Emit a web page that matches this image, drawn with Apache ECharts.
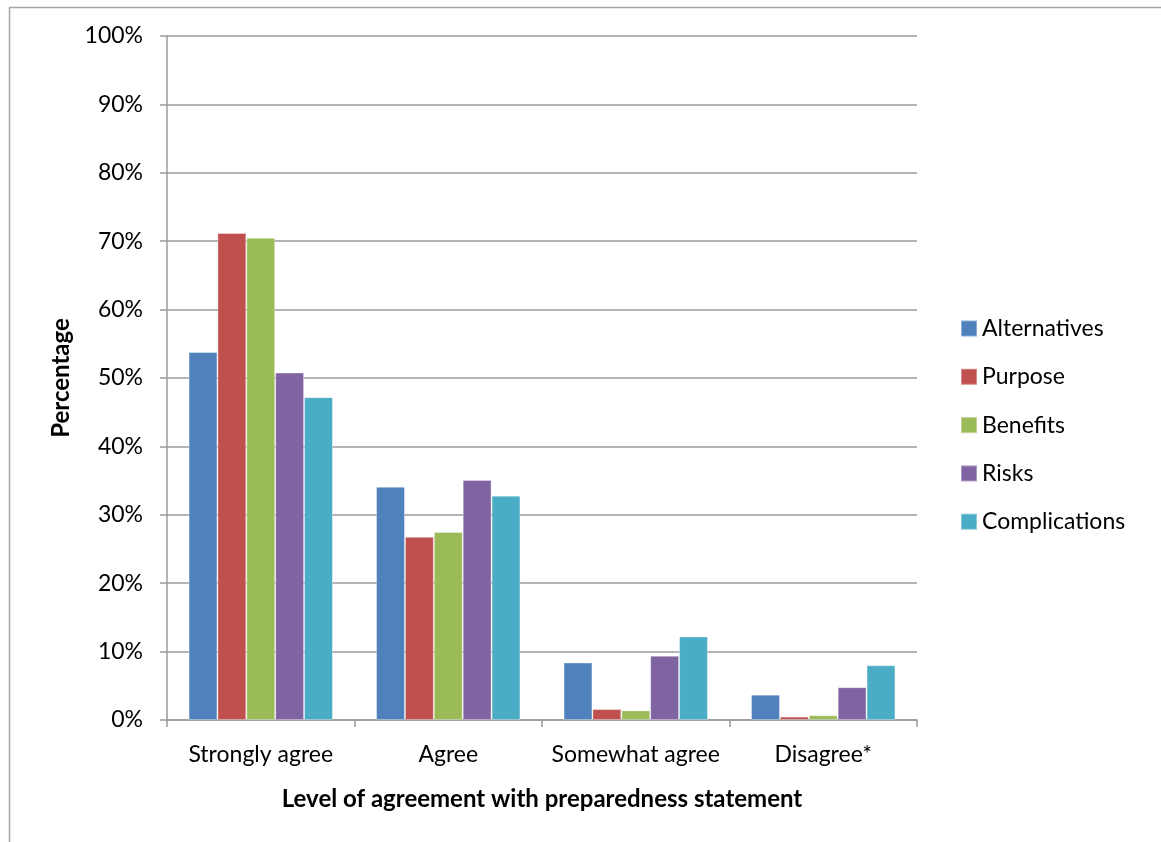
<!DOCTYPE html>
<html>
<head>
<meta charset="utf-8">
<script src="https://cdn.jsdelivr.net/npm/echarts@6/dist/echarts.min.js"></script>
<style>
  html, body { margin: 0; padding: 0; background: #ffffff; }
  #chart { width: 1161px; height: 842px; }
</style>
</head>
<body>
<div id="chart"></div>
<script>
// Agreement levels on the x axis
const categories = ['Strongly agree', 'Agree', 'Somewhat agree', 'Disagree*'];

// Percentage of respondents per preparedness statement
const alternatives  = [53.8, 34.1, 8.4, 3.7];
const purpose       = [71.2, 26.8, 1.6, 0.5];
const benefits      = [70.5, 27.5, 1.4, 0.7];
const risks         = [50.8, 35.1, 9.4, 4.8];
const complications = [47.2, 32.8, 12.2, 8.0];

const seriesNames = ['Alternatives', 'Purpose', 'Benefits', 'Risks', 'Complications'];
const seriesData = [alternatives, purpose, benefits, risks, complications];
const colors = ['#4F81BD', '#C0504D', '#9BBB59', '#8064A2', '#4BACC6'];

const FONT = 'Lato';
const FS = 23;
const FS_TITLE = 24;
const chart = echarts.init(document.getElementById('chart'), null, { renderer: 'canvas' });

chart.setOption({
  animation: false,
  backgroundColor: '#ffffff',
  color: colors,
  textStyle: { fontFamily: FONT },
  graphic: [{
    type: 'rect',
    shape: { x: 9.5, y: 7.5, width: 1200, height: 900 },
    style: { fill: 'none', stroke: '#a6a6a6', lineWidth: 1.5 },
    silent: true, z: -1
  }],
  grid: { left: 167, right: 244, top: 36, bottom: 122, containLabel: false },
  legend: {
    orient: 'vertical',
    left: 955,
    top: 312,
    itemWidth: 16,
    itemHeight: 16,
    itemGap: 25.3,
    icon: 'rect',
    textStyle: { fontFamily: FONT, fontSize: FS, color: '#000000', padding: [0, 0, 0, 0] },
    data: seriesNames
  },
  xAxis: {
    type: 'category',
    data: categories,
    name: 'Level of agreement with preparedness statement',
    nameLocation: 'middle',
    nameGap: 67,
    nameTextStyle: { fontFamily: FONT, fontSize: FS_TITLE, fontWeight: 'bold', color: '#000000' },
    axisLine: { lineStyle: { color: '#9a9a9a', width: 1.5 } },
    axisTick: { show: true, length: 7, lineStyle: { color: '#9a9a9a', width: 1.5 } },
    axisLabel: { interval: 0, fontFamily: FONT, fontSize: FS, color: '#000000', margin: 23 }
  },
  yAxis: {
    type: 'value',
    min: 0,
    max: 100,
    interval: 10,
    name: 'Percentage',
    nameLocation: 'middle',
    nameGap: 94,
    nameRotate: 90,
    nameTextStyle: { fontFamily: FONT, fontSize: FS_TITLE, fontWeight: 'bold', color: '#000000' },
    axisLine: { show: true, lineStyle: { color: '#9a9a9a', width: 1.5 } },
    axisTick: { show: true, length: 7, lineStyle: { color: '#9a9a9a', width: 1.5 } },
    axisLabel: { fontFamily: FONT, fontSize: FS, color: '#000000', margin: 24, formatter: '{value}%' },
    splitLine: { lineStyle: { color: '#9a9a9a', width: 1.5 } }
  },
  series: seriesNames.map((name, i) => ({
    name: name,
    type: 'bar',
    data: seriesData[i],
    barGap: '0%',
    barCategoryGap: '23%',
    itemStyle: { color: colors[i], borderColor: 'rgba(255,255,255,0.35)', borderWidth: 1 }
  }))
});
</script>
</body>
</html>
